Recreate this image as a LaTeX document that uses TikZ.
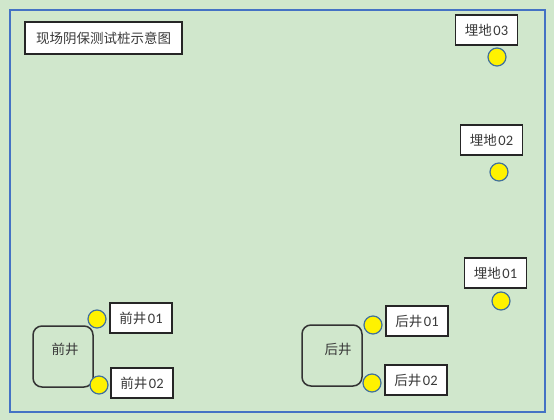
\documentclass[tikz,border=0pt]{standalone}
\usepackage{fontspec}
\newfontfamily\cjk{Noto Sans CJK SC}
\newfontfamily\carl{Carlito}
\definecolor{fieldgreen}{HTML}{D0E7CC}
\definecolor{framblue}{HTML}{4472C4}
\definecolor{pileedge}{HTML}{41719C}
\definecolor{txtgray}{HTML}{3A3A3A}
\newcommand{\tag}[2]{{\cjk #1}\kern1.5pt{\carl\fontsize{14.5}{16}\selectfont #2}}
\begin{document}
\begin{tikzpicture}[x=1pt,y=-1pt,
  tagbox/.style={rectangle,draw=black!85,line width=1.6pt,fill=white,minimum width=62pt,minimum height=30pt,inner sep=0pt,text=txtgray,font=\cjk\fontsize{13.5}{15}\selectfont},
  pile/.style={circle,draw=pileedge,line width=1.2pt,fill=yellow,minimum size=18pt,inner sep=0pt},
  well/.style={rectangle,rounded corners=9pt,draw=black!80,line width=1.5pt,minimum width=60pt,minimum height=61pt,inner sep=0pt}]

\useasboundingbox (0,0) rectangle (554,420);
\fill[fieldgreen] (0,0) rectangle (554,420);
\draw[framblue,line width=1.2pt] (10,10) rectangle (545,412);

% title
\node[tagbox,minimum width=157pt,minimum height=32pt,font=\cjk\fontsize{13.5}{15}\selectfont] (title) at (103.5,38) {现场阴保测试桩示意图};

% buried piles
\node[tagbox] (md03) at (486.5,30) {\tag{埋地}{03}};
\node[pile] (p03) at (497,57) {};
\node[tagbox] (md02) at (491.5,140) {\tag{埋地}{02}};
\node[pile] (p02) at (499,172) {};
\node[tagbox] (md01) at (495.5,273) {\tag{埋地}{01}};
\node[pile] (p01) at (501,301) {};

% front well
\node[well] (qj) at (63,356.5) {};
\node[text=txtgray,font=\cjk\fontsize{13.5}{15}\selectfont] at (65,349) {前井};
\node[pile] (pq1) at (97,319) {};
\node[tagbox] (qj01) at (141,318) {\tag{前井}{01}};
\node[pile] (pq2) at (99,385) {};
\node[tagbox] (qj02) at (142,383) {\tag{前井}{02}};

% back well
\node[well] (hj) at (332,355.5) {};
\node[text=txtgray,font=\cjk\fontsize{13.5}{15}\selectfont] at (338,349) {后井};
\node[pile] (ph1) at (373,325) {};
\node[tagbox] (hj01) at (417,321) {\tag{后井}{01}};
\node[pile] (ph2) at (372,383) {};
\node[tagbox] (hj02) at (416,380) {\tag{后井}{02}};
\end{tikzpicture}
\end{document}
